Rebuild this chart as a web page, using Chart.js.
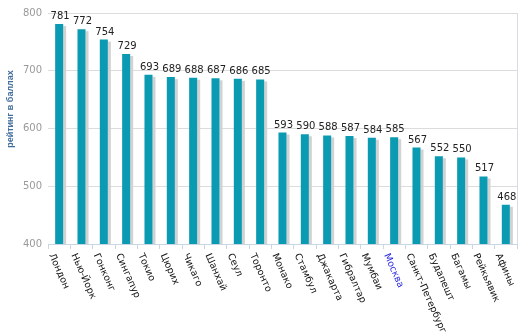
<!DOCTYPE html>
<html>
<head>
<meta charset="utf-8">
<script src="https://cdn.jsdelivr.net/npm/chart.js@4"></script>
<style>
  body { margin: 0; background: #fff; }
  canvas { display: block; }
</style>
</head>
<body>
<canvas id="chart" width="523" height="334"></canvas>
<script>
// данные
const cities = ['Лондон', 'Нью-Йорк', 'Гонконг', 'Сингапур', 'Токио', 'Цюрих', 'Чикаго', 'Шанхай', 'Сеул', 'Торонто',
    'Монако', 'Стамбул', 'Джакарта', 'Гибралтар', 'Мумбаи', 'Москва', 'Санкт-Петербург', 'Будапешт', 'Багамы', 'Рейкьявик', 'Афины'];
const ratings = [781, 772, 754, 729, 693, 689, 688, 687, 686, 685, 593, 590, 588, 587, 584, 585, 567, 552, 550, 517, 468];
const yTicks = [400, 500, 600, 700, 800];
const yTitle = 'рейтинг в баллах';
const highlight = 'Москва';

// тень справа от столбиков, подписи значений и повернутые подписи городов
const decor = {
    id: 'decor',
    beforeDatasetsDraw(chart) {
        const ctx = chart.ctx;
        const meta = chart.getDatasetMeta(0);
        const bottom = chart.chartArea.bottom;
        ctx.save();
        ctx.fillStyle = '#d2d2d2';
        meta.data.forEach(bar => {
            ctx.fillRect(bar.x + bar.width / 2, bar.y + 2, 3, bottom - bar.y - 2);
        });
        ctx.restore();
    },
    afterDraw(chart) {
        const ctx = chart.ctx;
        const area = chart.chartArea;
        const meta = chart.getDatasetMeta(0);
        const xScale = chart.scales.x;
        ctx.save();

        // правая граница
        ctx.strokeStyle = '#d6dde6';
        ctx.lineWidth = 1;
        ctx.beginPath();
        ctx.moveTo(Math.round(area.right) + 0.5, area.top);
        ctx.lineTo(Math.round(area.right) + 0.5, area.bottom);
        ctx.stroke();

        // значения над столбиками
        ctx.font = '10px "DejaVu Sans"';
        ctx.fillStyle = '#222';
        ctx.textAlign = 'center';
        ctx.textBaseline = 'alphabetic';
        meta.data.forEach((bar, i) => {
            ctx.fillText(ratings[i], bar.x + 1, bar.y - 5);
        });

        // подписи городов
        ctx.font = '9.5px "DejaVu Sans"';
        ctx.textAlign = 'left';
        ctx.textBaseline = 'middle';
        cities.forEach((name, i) => {
            const x = xScale.getPixelForTick(i);
            ctx.save();
            ctx.translate(x - 8, area.bottom + 10);
            ctx.rotate(66 * Math.PI / 180);
            ctx.fillStyle = name === highlight ? '#2a2ae0' : '#111';
            ctx.fillText(name, 0, 0);
            ctx.restore();
        });

        // заголовок оси Y
        ctx.font = 'bold 9px "Liberation Sans"';
        ctx.fillStyle = '#3f6d9c';
        ctx.textAlign = 'center';
        ctx.textBaseline = 'middle';
        ctx.translate(11, 109);
        ctx.rotate(-Math.PI / 2);
        ctx.fillText(yTitle, 0, 0);
        ctx.restore();
    }
};

new Chart(document.getElementById('chart'), {
    type: 'bar',
    data: {
        labels: cities,
        datasets: [{
            data: ratings,
            backgroundColor: '#0a9ab2',
            barPercentage: 0.36,
            categoryPercentage: 1
        }]
    },
    options: {
        responsive: false,
        animation: false,
        layout: { padding: { top: 13, right: 6, bottom: 0, left: 0 } },
        plugins: {
            legend: { display: false },
            tooltip: { enabled: false }
        },
        scales: {
            x: {
                grid: { offset: true, drawOnChartArea: false, tickLength: 5, color: '#c9d6e3' },
                border: { color: '#c9d6e3' },
                ticks: { display: false },
                afterFit(scale) { scale.height = 90; }
            },
            y: {
                min: yTicks[0],
                max: yTicks[yTicks.length - 1],
                afterBuildTicks(scale) { scale.ticks = yTicks.map(v => ({ value: v })); },
                grid: { color: '#dcdcdc', drawTicks: false },
                border: { display: false },
                ticks: { color: '#999', font: { family: 'DejaVu Sans', size: 10 }, padding: 6 },
                afterFit(scale) { scale.width = 48; }
            }
        }
    },
    plugins: [decor]
});
</script>
</body>
</html>
